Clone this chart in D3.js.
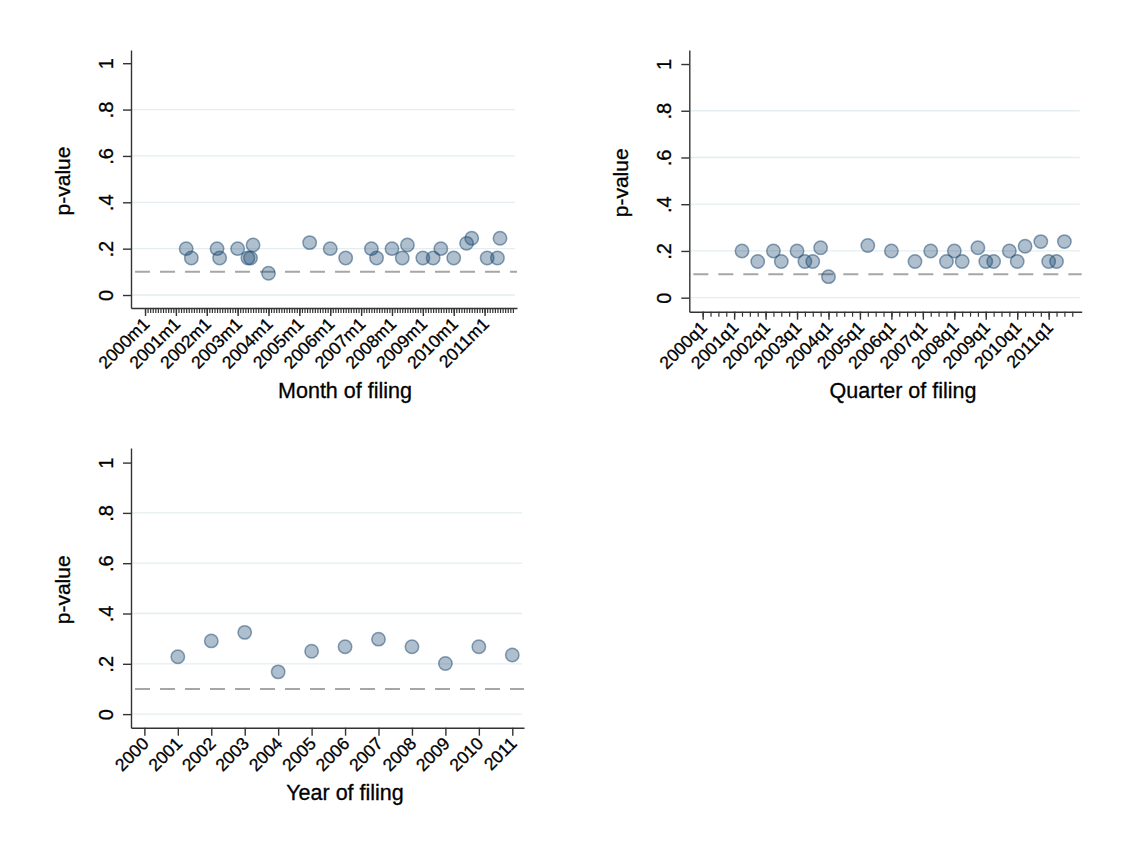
<!DOCTYPE html>
<html>
<head>
<meta charset="utf-8">
<script src="https://cdn.jsdelivr.net/npm/d3@7"></script>
<style>
  body { margin: 0; background: #fff; }
  svg text { font-family: Arial, "Liberation Sans", sans-serif; stroke: #000; stroke-width: 0.3px; }
</style>
</head>
<body>
<svg id="chart" width="1146" height="842"></svg>
<script>
// p-values by month of filing
const monthDates = ['2001m5', '2001m7', '2002m5', '2002m6', '2003m1', '2003m5', '2003m6', '2003m7',
    '2004m1', '2005m5', '2006m1', '2006m7', '2007m5', '2007m7', '2008m1', '2008m5', '2008m7',
    '2009m1', '2009m5', '2009m8', '2010m1', '2010m6', '2010m8', '2011m2', '2011m6', '2011m7'];
const monthPvals = [0.20, 0.16, 0.20, 0.16, 0.20, 0.16, 0.16, 0.216,
    0.094, 0.226, 0.20, 0.16, 0.20, 0.16, 0.20, 0.16, 0.216,
    0.16, 0.16, 0.20, 0.16, 0.223, 0.245, 0.16, 0.16, 0.245];

// p-values by quarter of filing
const quarterDates = ['2001q2', '2001q4', '2002q2', '2002q3', '2003q1', '2003q2', '2003q3', '2003q4',
    '2004q1', '2005q2', '2006q1', '2006q4', '2007q2', '2007q4', '2008q1', '2008q2', '2008q4',
    '2009q1', '2009q2', '2009q4', '2010q1', '2010q2', '2010q4', '2011q1', '2011q2', '2011q3'];
const quarterPvals = [0.20, 0.155, 0.20, 0.155, 0.20, 0.155, 0.155, 0.214,
    0.09, 0.223, 0.20, 0.155, 0.20, 0.155, 0.20, 0.155, 0.214,
    0.155, 0.155, 0.20, 0.155, 0.22, 0.24, 0.155, 0.155, 0.24];

// p-values by year of filing
const years = [2001, 2002, 2003, 2004, 2005, 2006, 2007, 2008, 2009, 2010, 2011];
const yearPvals = [0.228, 0.291, 0.325, 0.168, 0.25, 0.268, 0.298, 0.268, 0.201, 0.268, 0.235];

const labelYears = d3.range(2000, 2012);
const yTicks = [0, 0.2, 0.4, 0.6, 0.8, 1];
const gridTicks = [0, 0.2, 0.4, 0.6, 0.8];
const threshold = 0.1;

const navy = '#1a476f';
const font = 'Arial, "Liberation Sans", sans-serif';
const svg = d3.select('#chart');

const parseMonth = s => { const [y, m] = s.split('m'); return (+y - 2000) * 12 + (+m - 1); };
const parseQuarter = s => { const [y, q] = s.split('q'); return (+y - 2000) * 4 + (+q - 1); };
const fmtP = d => d === 0 ? '0' : d === 1 ? '1' : d3.format('.1f')(d).replace(/^0/, '');

function panel(cfg) {
    const { x, y, xAxisY, yAxisX, points, majors, minors, majorLabel, xTitle, titleX, titleY } = cfg;
    const g = svg.append('g');

    // grid
    g.selectAll('line.grid')
        .data(gridTicks)
        .enter().append('line')
            .attr('x1', yAxisX + 1)
            .attr('x2', x.range()[1] - 2)
            .attr('y1', d => y(d))
            .attr('y2', d => y(d))
            .attr('stroke', '#e4eef1')
            .attr('stroke-width', 1.3);

    // p = .1 reference
    g.append('line')
        .attr('x1', yAxisX + 4)
        .attr('x2', x.range()[1])
        .attr('y1', y(threshold))
        .attr('y2', y(threshold))
        .attr('stroke', '#a6a6a6')
        .attr('stroke-width', 2)
        .attr('stroke-dasharray', '15,10');

    // y axis
    const yAxis = g.append('g')
        .attr('transform', `translate(${yAxisX},0)`)
        .call(d3.axisLeft(y).tickValues(yTicks).tickFormat(fmtP).tickSize(8).tickSizeOuter(0))
        .attr('font-family', font);
    yAxis.select('.domain').attr('stroke', '#333').attr('stroke-width', 1.4);
    yAxis.selectAll('.tick line').attr('stroke', '#333').attr('stroke-width', 1.4);
    yAxis.selectAll('.tick text')
        .attr('x', null).attr('dy', null)
        .attr('transform', 'translate(-18,0) rotate(-90)')
        .attr('text-anchor', 'middle')
        .style('font-size', '20px')
        .attr('fill', '#000');

    // x axis: minor ticks
    g.append('g')
        .attr('transform', `translate(0,${xAxisY})`)
        .call(d3.axisBottom(x).tickValues(minors).tickFormat('').tickSize(5).tickSizeOuter(0))
        .call(s => s.select('.domain').remove())
        .selectAll('.tick line').attr('stroke', '#333').attr('stroke-width', 1.2);

    // x axis: major ticks
    const xAxis = g.append('g')
        .attr('transform', `translate(0,${xAxisY})`)
        .call(d3.axisBottom(x).tickValues(majors).tickFormat(majorLabel).tickSize(8).tickSizeOuter(0))
        .attr('font-family', font);
    xAxis.select('.domain').attr('stroke', '#333').attr('stroke-width', 1.4);
    xAxis.selectAll('.tick line').attr('stroke', '#333').attr('stroke-width', 1.4);
    xAxis.selectAll('.tick text')
        .attr('y', null).attr('dy', null)
        .attr('transform', 'translate(5,17) rotate(-45)')
        .attr('text-anchor', 'end')
        .style('font-size', '17.5px')
        .attr('fill', '#000');

    // markers
    g.selectAll('circle.pt')
        .data(points)
        .enter().append('circle')
            .attr('cx', d => x(d.x))
            .attr('cy', d => y(d.p))
            .attr('r', 6.7)
            .attr('fill', navy)
            .attr('fill-opacity', 0.35)
            .attr('stroke', navy)
            .attr('stroke-opacity', 0.5)
            .attr('stroke-width', 1.5);

    // titles
    g.append('text')
        .attr('transform', `translate(${yAxisX - 61},${(y.range()[0] + y.range()[1]) / 2 + 2}) rotate(-90)`)
        .attr('text-anchor', 'middle')
        .style('font-size', '21px')
        .attr('fill', '#000')
        .text('p-value');

    g.append('text')
        .attr('x', titleX)
        .attr('y', titleY)
        .attr('text-anchor', 'middle')
        .style('font-size', '21.5px')
        .attr('fill', '#000')
        .text(xTitle);
}

// month panel
panel({
    x: d3.scaleLinear().domain([-5.45, 144.6]).range([131, 517]),
    y: d3.scaleLinear().domain([-0.056, 1.057]).range([308, 50]),
    xAxisY: 308, yAxisX: 131,
    points: monthDates.map((d, i) => ({ x: parseMonth(d), p: monthPvals[i] })),
    majors: labelYears.map(yr => parseMonth(yr + 'm1')),
    minors: d3.range(0, 144),
    majorLabel: d => `${2000 + d / 12}m1`,
    xTitle: 'Month of filing', titleX: 345, titleY: 398
});

// quarter panel
panel({
    x: d3.scaleLinear().domain([-1.7, 48.2]).range([689.3, 1081.7]),
    y: d3.scaleLinear().domain([-0.06, 1.06]).range([311.7, 50]),
    xAxisY: 311.7, yAxisX: 689.3,
    points: quarterDates.map((d, i) => ({ x: parseQuarter(d), p: quarterPvals[i] })),
    majors: labelYears.map(yr => parseQuarter(yr + 'q1')),
    minors: d3.range(0, 48),
    majorLabel: d => `${2000 + d / 4}q1`,
    xTitle: 'Quarter of filing', titleX: 903, titleY: 398
});

// year panel
panel({
    x: d3.scaleLinear().domain([1999.6, 2011.35]).range([131, 524]),
    y: d3.scaleLinear().domain([-0.054, 1.058]).range([727.7, 448]),
    xAxisY: 727.7, yAxisX: 131,
    points: years.map((d, i) => ({ x: d, p: yearPvals[i] })),
    majors: labelYears,
    minors: [],
    majorLabel: d => String(d),
    xTitle: 'Year of filing', titleX: 345, titleY: 800
});
</script>
</body>
</html>
